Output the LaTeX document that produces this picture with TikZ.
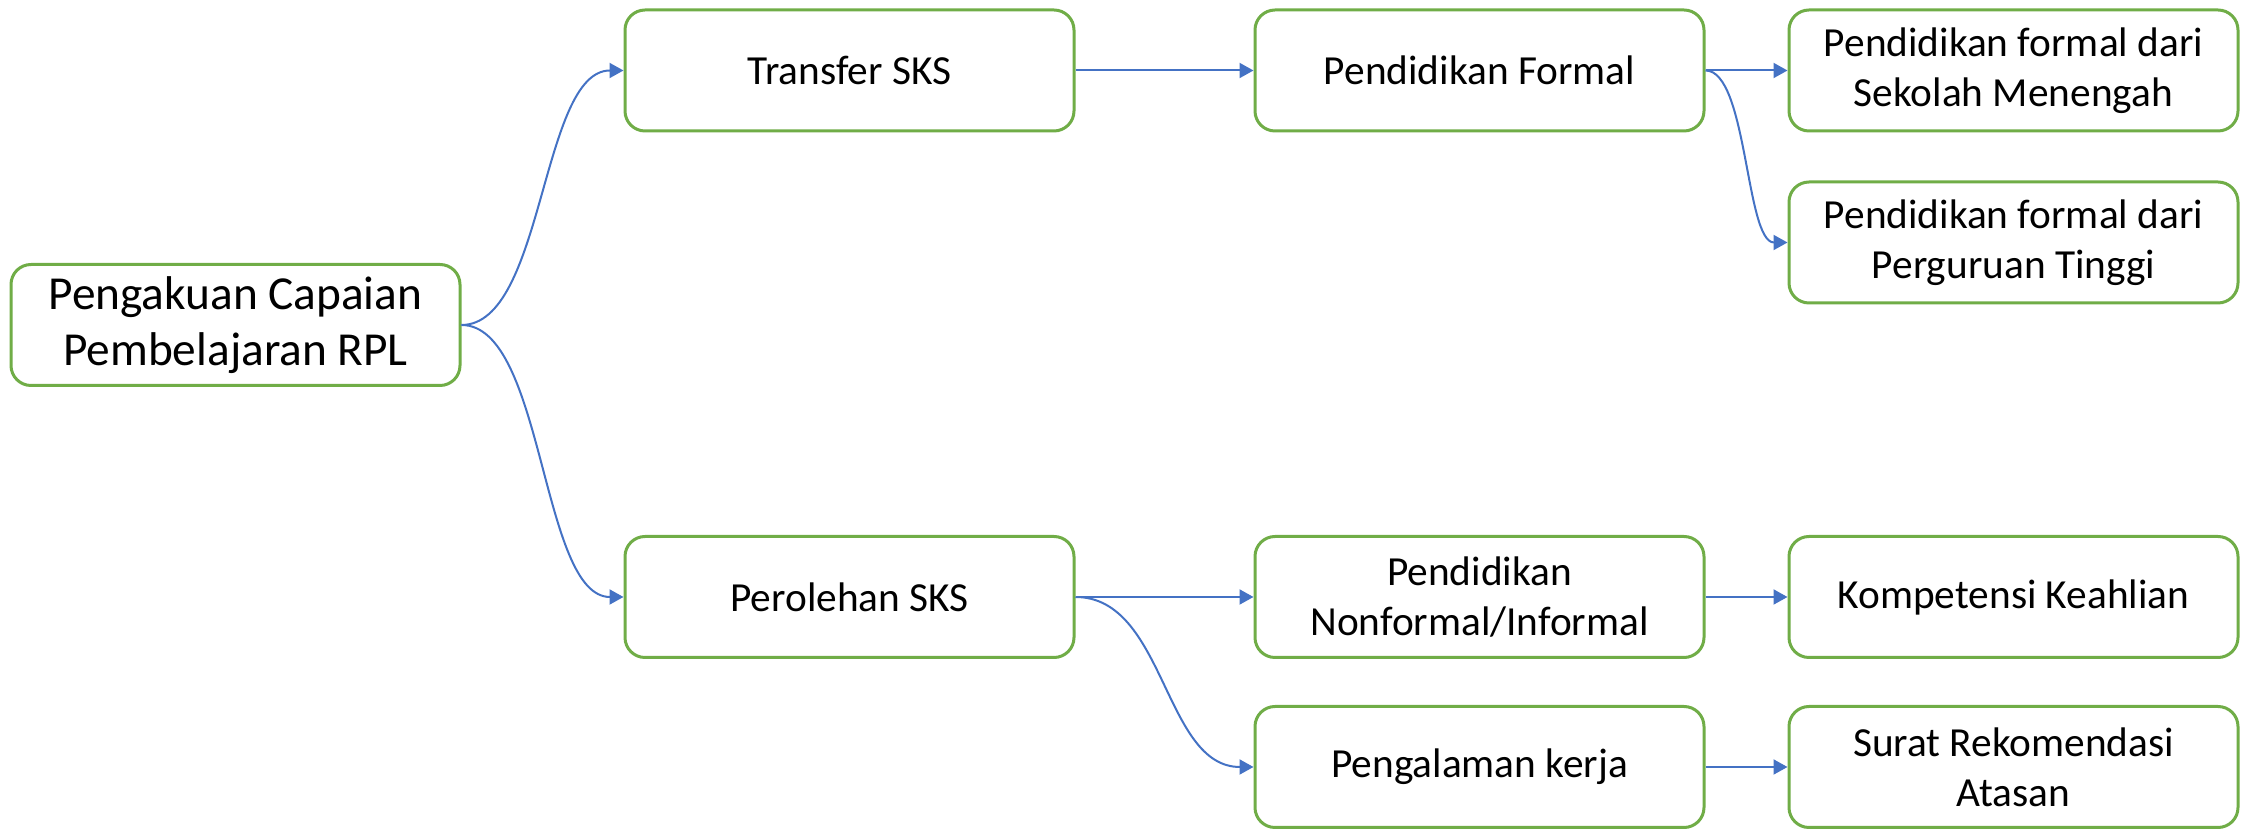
\documentclass[tikz,border=0pt]{standalone}
\usepackage{fontspec}
\setmainfont{Carlito}
\usetikzlibrary{arrows.meta}
\definecolor{boxgreen}{HTML}{70AD47}
\definecolor{arrowblue}{HTML}{4472C4}
\begin{document}
\begin{tikzpicture}[x=0.3pt,y=-0.3pt,
  box/.style={draw=boxgreen, line width=0.9pt, rounded corners=6pt, fill=white,
    minimum width=134.7pt, minimum height=36.3pt, align=center, inner sep=0pt,
    font=\fontsize{12.4}{15}\selectfont},
  mainbox/.style={box, font=\fontsize{14.2}{16.8}\selectfont},
  conn/.style={draw=arrowblue, line width=0.6pt, -{Triangle[length=4.2pt,width=4.5pt]}}]
\useasboundingbox (0,0) rectangle (2249,829);
\node[mainbox] (main) at (235.5,325) {Pengakuan Capaian\\Pembelajaran RPL};
\node[box] (transfer) at (849.5,70.5) {Transfer SKS};
\node[box] (perolehan) at (849.5,597) {Perolehan SKS};
\node[box] (formal) at (1479.5,70.5) {Pendidikan Formal};
\node[box] (nonformal) at (1479.5,597) {Pendidikan\\Nonformal/Informal};
\node[box] (kerja) at (1479.5,767) {Pengalaman kerja};
\node[box] (sekolah) at (2013.5,70.5) {Pendidikan formal dari\\Sekolah Menengah};
\node[box] (pt) at (2013.5,242.5) {Pendidikan formal dari\\Perguruan Tinggi};
\node[box] (kompetensi) at (2013.5,597) {Kompetensi Keahlian};
\node[box] (surat) at (2013.5,767) {Surat Rekomendasi\\Atasan};

\draw[conn] (main.east) .. controls +(83,0) and +(-83,0) .. (transfer.west);
\draw[conn] (main.east) .. controls +(83,0) and +(-83,0) .. (perolehan.west);
\draw[conn] (transfer.east) -- (formal.west);
\draw[conn] (formal.east) -- (sekolah.west);
\draw[conn] (formal.east) .. controls +(42,0) and +(-42,0) .. (pt.west);
\draw[conn] (perolehan.east) -- (nonformal.west);
\draw[conn] (perolehan.east) .. controls +(90,0) and +(-90,0) .. (kerja.west);
\draw[conn] (nonformal.east) -- (kompetensi.west);
\draw[conn] (kerja.east) -- (surat.west);
\end{tikzpicture}
\end{document}
